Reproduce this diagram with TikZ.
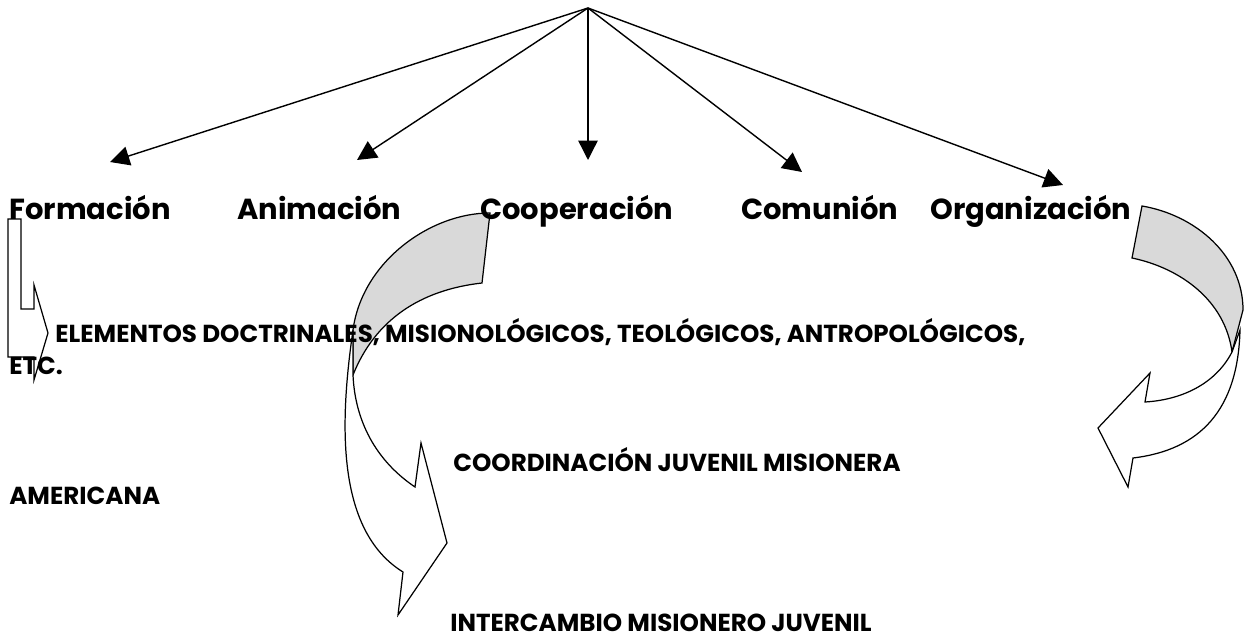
\documentclass[tikz,border=0pt]{standalone}
\usepackage{fontspec}
\setmainfont{Poppins}
\usepackage{tikz}
\usetikzlibrary{arrows.meta}
\tikzset{
    % Text styles
    branch/.style={
        anchor=base west,
        inner sep=0pt,
        font=\fontsize{16.5}{19}\selectfont\bfseries
    },
    note/.style={
        anchor=base west,
        inner sep=0pt,
        font=\fontsize{14}{16}\selectfont\bfseries
    },
    % Arrow styles
    arrow/.style={
        -{Triangle[length=11pt,width=11pt]},
        line width=0.8pt
    },
    % Block arrow faces
    backface/.style={
        draw,
        line width=0.7pt,
        fill=black!15
    },
    frontface/.style={
        draw,
        line width=0.7pt,
        fill=white
    }
}

\begin{document}
\begin{tikzpicture}[x=0.02cm, y=-0.02cm]
    \useasboundingbox (0,0) rectangle (1251,638);

    \coordinate (top) at (588,8);
    \coordinate (tform) at (110,162);
    \coordinate (tanim) at (357,160);
    \coordinate (tcoop) at (588,160);
    \coordinate (tcomu) at (802,172);
    \coordinate (torga) at (1063,185);

    \draw[arrow] (top) -- (tform);
    \draw[arrow] (top) -- (tanim);
    \draw[arrow] (top) -- (tcoop);
    \draw[arrow] (top) -- (tcomu);
    \draw[arrow] (top) -- (torga);

    % bent arrow at the left
    \draw[frontface] (8,219) -- (21,219) -- (21,309) -- (34,309) -- (34,285)
        -- (48,333) -- (34,380) -- (34,357) -- (8,357) -- cycle;

    % curved arrow under Cooperacion
    \draw[backface] (490,213) .. controls (430,213) and (362,262) .. (353,330)
        -- (353,375) .. controls (375,320) and (420,290) .. (482,283) -- cycle;
    \draw[frontface] (353,330) .. controls (340,420) and (335,530) .. (403,572)
        -- (398,615) -- (447,543) -- (421,443) -- (415,487)
        .. controls (375,460) and (355,420) .. (353,375) -- cycle;

    % curved arrow under Organizacion
    \draw[backface] (1142,206) .. controls (1195,215) and (1243,255) .. (1243,310)
        -- (1232,352) .. controls (1225,300) and (1180,268) .. (1132,258) -- cycle;
    \draw[frontface] (1232,352) .. controls (1215,385) and (1180,400) .. (1145,402)
        -- (1150,373) -- (1098,428) -- (1128,487) -- (1133,458)
        .. controls (1200,450) and (1238,410) .. (1240,330) -- cycle;

    \node[branch] (form) at (9,220) {Formación};
    \node[branch] (anim) at (237,220) {Animación};
    \node[branch] (coop) at (480,220) {Cooperación};
    \node[branch] (comu) at (741,220) {Comunión};
    \node[branch] (orga) at (930,220) {Organización};

    \node[note] (elem) at (55,343) {ELEMENTOS DOCTRINALES, MISIONOLÓGICOS, TEOLÓGICOS, ANTROPOLÓGICOS,};
    \node[note] (etc) at (9,375) {ETC.};
    \node[note] (coord) at (453,471) {COORDINACIÓN JUVENIL MISIONERA};
    \node[note] (amer) at (9,504) {AMERICANA};
    \node[note] (inter) at (450,631) {INTERCAMBIO MISIONERO JUVENIL};
\end{tikzpicture}
\end{document}
